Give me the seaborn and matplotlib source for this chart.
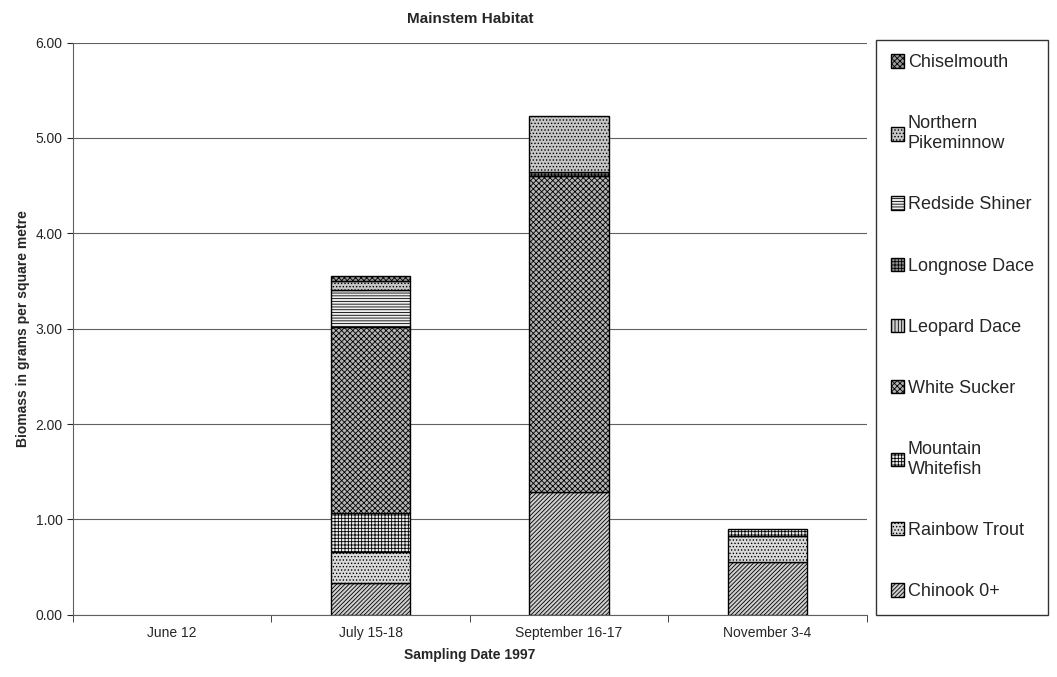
import numpy as np
import pandas as pd
import matplotlib
matplotlib.use("Agg")
import matplotlib.pyplot as plt
import matplotlib.patches as mpatches
import seaborn as sns

# Biomass (g per m2) by sampling date
dates = ["June 12", "July 15-18", "September 16-17", "November 3-4"]
chinook = [0.00, 0.33, 1.29, 0.55]
rainbow_trout = [0.00, 0.33, 0.00, 0.28]
mountain_whitefish = [0.00, 0.41, 0.00, 0.07]
white_sucker = [0.00, 1.95, 3.31, 0.00]
leopard_dace = [0.00, 0.00, 0.00, 0.00]
longnose_dace = [0.00, 0.00, 0.04, 0.00]
redside_shiner = [0.00, 0.39, 0.00, 0.00]
northern_pikeminnow = [0.00, 0.09, 0.59, 0.00]
chiselmouth = [0.00, 0.05, 0.00, 0.00]

species = ["Chinook 0+", "Rainbow Trout", "Mountain\nWhitefish", "White Sucker",
           "Leopard Dace", "Longnose Dace", "Redside Shiner", "Northern\nPikeminnow",
           "Chiselmouth"]
values = [chinook, rainbow_trout, mountain_whitefish, white_sucker, leopard_dace,
          longnose_dace, redside_shiner, northern_pikeminnow, chiselmouth]

# (facecolor, hatch) to mimic the grey fill patterns
styles = [("#cfcfcf", "////////"), ("#dadada", "....."), ("#eeeeee", "+++++"),
          ("#b5b5b5", "xxxxxx"), ("#d0d0d0", "|||||"), ("#8f8f8f", "+++++"),
          ("#eeeeee", "------"), ("#c6c6c6", "....."), ("#9a9a9a", "xxxxxx")]

sns.set_style("white")
plt.rcParams["font.family"] = ["Liberation Sans", "DejaVu Sans"]
plt.rcParams["hatch.linewidth"] = 0.6
plt.rcParams["hatch.color"] = "#404040"

fig = plt.figure(figsize=(10.57, 6.77), dpi=100)
ax = fig.add_axes([0.069, 0.092, 0.751, 0.845])

bottom = np.zeros(len(dates))
handles = []
for name, vals, (fc, hatch) in zip(species, values, styles):
    sns.barplot(x=dates, y=vals, bottom=bottom, width=0.4, color=fc, hatch=hatch,
                edgecolor="black", linewidth=1.0, ax=ax)
    bottom = bottom + np.array(vals)
    handles.append(mpatches.Patch(facecolor=fc, hatch=hatch, edgecolor="black",
                                  linewidth=1.0, label=name))

# hide empty segments (no outline for zero-height bars)
for p in ax.patches:
    if p.get_height() == 0:
        p.set_visible(False)

ax.set_ylim(0, 6)
ax.set_xlim(-0.5, 3.5)
ax.set_yticks(np.arange(0, 6.01, 1))
ax.set_yticklabels([f"{v:.2f}" for v in np.arange(0, 6.01, 1)], fontsize=10)
ax.tick_params(axis="x", labelsize=10, length=0, pad=8)
ax.tick_params(axis="y", length=4, direction="out", left=True)
ax.set_xticks([-0.5, 0.5, 1.5, 2.5, 3.5], minor=True)
ax.tick_params(axis="x", which="minor", length=5, direction="out", bottom=True)
ax.yaxis.grid(True, color="#606060", linewidth=0.8)
ax.set_axisbelow(True)
for s in ["top", "right"]:
    ax.spines[s].set_visible(False)
for s in ["left", "bottom"]:
    ax.spines[s].set_color("#606060")

ax.set_title("Mainstem Habitat", fontsize=11, fontweight="bold", pad=14)
ax.set_xlabel("Sampling Date 1997", fontsize=10, fontweight="bold", labelpad=6)
ax.set_ylabel("Biomass in grams per square metre", fontsize=10, fontweight="bold")

leg = ax.legend(handles=handles[::-1], loc="upper left", bbox_to_anchor=(1.012, 1.005),
                frameon=True, fancybox=False, edgecolor="black", fontsize=13,
                labelspacing=2.45, handlelength=0.75, handleheight=0.75, handletextpad=0.2,
                borderpad=0.8, borderaxespad=0)
leg.get_frame().set_linewidth(1.0)

fig.savefig("out.png", dpi=100)
